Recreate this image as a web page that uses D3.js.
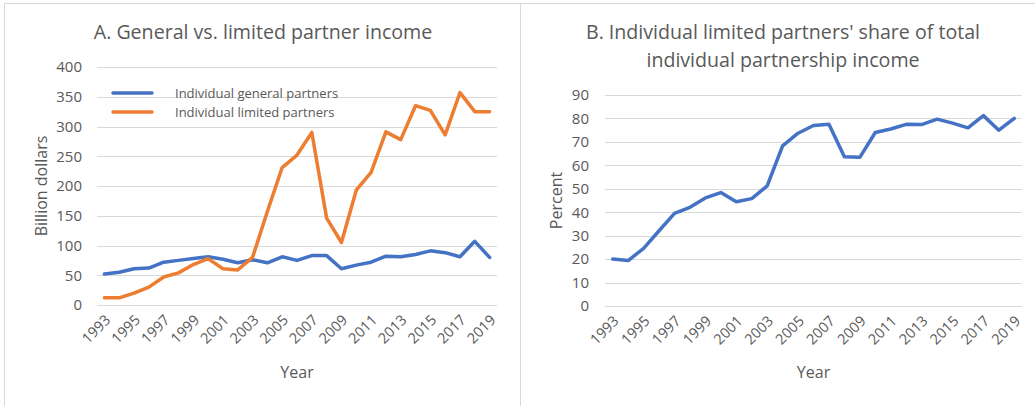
<!DOCTYPE html>
<html><head><meta charset="utf-8">
<script src="https://cdn.jsdelivr.net/npm/d3@7"></script>
<style>
html,body{margin:0;padding:0;background:#fff;}
svg{display:block;font-family:"Open Sans",sans-serif;}
</style></head>
<body>
<svg id="c" width="1035" height="406"></svg>
<script>
const years = d3.range(1993, 2020).map(String);
const generalPartners = [52,55,61,62,72,75,78,81,77,71,76,71,81,75,83,83,61,67,72,82,81,85,91,88,81,107,80];
const limitedPartners = [12,12,20,30,47,54,68,78,61,59,80,157,231,252,290,146,105,193,223,291,278,335,327,286,357,325,325];
const limitedShare = [20.0,19.4,24.6,32.1,39.5,42.1,46.1,48.4,44.5,45.8,51.2,68.3,73.7,77.0,77.5,63.7,63.4,74.0,75.5,77.5,77.4,79.7,78.0,76.0,81.2,75.0,80.0];
const ticksA = [0,50,100,150,200,250,300,350,400];
const ticksB = [0,10,20,30,40,50,60,70,80,90];
const xTickLabels = years.filter((d,i)=>i%2===0);
const seriesNames = ["Individual general partners","Individual limited partners"];
const colors = {blue:"#4472C4", orange:"#ED7D31"};

const svg = d3.select("#c");
const txt = "#595959", grid = "#d9d9d9";

// panel borders
svg.append("line").attr("x1",4).attr("x2",1035).attr("y1",3.5).attr("y2",3.5).attr("stroke",grid);
svg.append("line").attr("x1",4.5).attr("x2",4.5).attr("y1",3).attr("y2",406).attr("stroke",grid);
svg.append("line").attr("x1",520.5).attr("x2",520.5).attr("y1",3).attr("y2",406).attr("stroke",grid);

function panel(opts){
  const g = svg.append("g");
  const x = d3.scaleBand().domain(years).range([opts.x0, opts.x1]);
  const y = d3.scaleLinear().domain([0, opts.ymax]).range([opts.y0, opts.y1]);
  // grid
  g.selectAll(".gl").data(opts.ticks).join("line")
    .attr("x1",opts.x0).attr("x2",opts.x1)
    .attr("y1",d=>Math.round(y(d))+0.5).attr("y2",d=>Math.round(y(d))+0.5)
    .attr("stroke",grid).attr("stroke-width",1);
  // y axis labels
  const ya = g.append("g").attr("transform",`translate(${opts.x0},0)`)
    .call(d3.axisLeft(y).tickValues(opts.ticks).tickSize(0).tickPadding(opts.ypad));
  ya.select(".domain").remove();
  ya.selectAll("text").attr("fill",txt).style("font-size","15px").style("font-family","Open Sans");
  // x axis labels
  const xa = g.append("g").attr("transform",`translate(0,${opts.y0})`)
    .call(d3.axisBottom(x).tickValues(xTickLabels).tickSize(0));
  xa.select(".domain").remove();
  xa.selectAll("text").attr("fill",txt).style("font-size","14.5px").style("font-family","Open Sans")
    .attr("text-anchor","end").attr("dy",null).attr("y",0)
    .attr("transform","translate(7,16) rotate(-45)");
  // lines
  opts.series.forEach(s=>{
    const line = d3.line().x((d,i)=>x(years[i])+x.bandwidth()/2).y(d=>y(d));
    g.append("path").datum(s.values).attr("d",line).attr("fill","none")
      .attr("stroke",s.color).attr("stroke-width",3.5).attr("stroke-linejoin","round").attr("stroke-linecap","round");
  });
  // axis titles
  g.append("text").attr("x",(opts.x0+opts.x1)/2).attr("y",378).attr("text-anchor","middle")
    .attr("fill",txt).style("font-size","16px").text("Year");
  g.append("text").attr("transform",`translate(${opts.ytx},${(opts.y0+opts.y1)/2}) rotate(-90)`)
    .attr("text-anchor","middle").attr("fill",txt).style("font-size","16px").text(opts.ytitle);
  return {x,y,g};
}

panel({x0:97,x1:497,y0:305,y1:67,ymax:400,ticks:ticksA,ypad:15,ytx:47,ytitle:"Billion dollars",
  series:[{values:generalPartners,color:colors.blue},{values:limitedPartners,color:colors.orange}]});
panel({x0:605,x1:1022,y0:306,y1:95,ymax:90,ticks:ticksB,ypad:16,ytx:562,ytitle:"Percent",
  series:[{values:limitedShare,color:colors.blue}]});

// titles
svg.append("text").attr("x",263).attr("y",39).attr("text-anchor","middle").attr("fill",txt)
  .style("font-size","19.6px").text("A. General vs. limited partner income");
svg.append("text").attr("x",783).attr("y",39).attr("text-anchor","middle").attr("fill",txt)
  .style("font-size","19.6px").text("B. Individual limited partners' share of total");
svg.append("text").attr("x",783).attr("y",67).attr("text-anchor","middle").attr("fill",txt)
  .style("font-size","19.6px").text("individual partnership income");

// legend
const leg = svg.append("g");
[colors.blue, colors.orange].forEach((c,i)=>{
  const yy = 93 + i*19;
  leg.append("line").attr("x1",113).attr("x2",152).attr("y1",yy).attr("y2",yy)
    .attr("stroke",c).attr("stroke-width",3.5).attr("stroke-linecap","round");
  leg.append("text").attr("x",175).attr("y",yy+4.5).attr("fill",txt)
    .style("font-size","13px").text(seriesNames[i]);
});
</script>
</body></html>
